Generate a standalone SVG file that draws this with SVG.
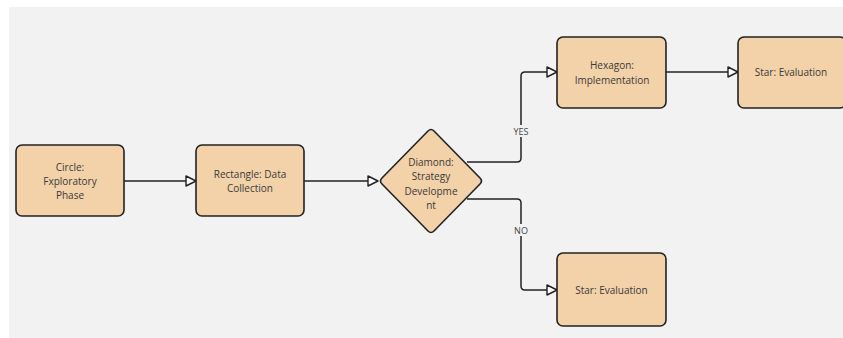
<svg xmlns="http://www.w3.org/2000/svg" width="843" height="338" viewBox="0 0 843 338">
<style>
.node{fill:#f3d1a9;stroke:#222;stroke-width:1.6}
.lbl{font-family:"Open Sans","Noto Sans",sans-serif;font-size:10px;fill:#3a3a3a;text-anchor:middle}
.edge{fill:none;stroke:#222;stroke-width:1.5}
.elbl{font-family:"Open Sans","Noto Sans",sans-serif;font-size:9px;fill:#444;text-anchor:middle}
</style>
<defs>
<marker id="arr" markerUnits="userSpaceOnUse" markerWidth="14" markerHeight="14" refX="11" refY="6" orient="auto">
<path d="M1,1 L11,6 L1,11 Z" fill="#fff" stroke="#222" stroke-width="1.4" stroke-linejoin="round"/>
</marker>
</defs>
<rect x="9" y="7" width="834" height="331" fill="#f2f2f2"/>
<g id="connectors">
<path class="edge" d="M124,181 H196" marker-end="url(#arr)"/>
<path class="edge" d="M304,181 H378" marker-end="url(#arr)"/>
<path class="edge" d="M467,162 H517 Q521,162 521,158 V76 Q521,72 525,72 H557" marker-end="url(#arr)"/>
<path class="edge" d="M467,199 H517 Q521,199 521,203 V286 Q521,290 525,290 H557" marker-end="url(#arr)"/>
<path class="edge" d="M666,72 H738" marker-end="url(#arr)"/>
<rect x="511" y="125" width="20" height="12" fill="#f2f2f2"/>
<text class="elbl" x="521" y="134.5">YES</text>
<rect x="513" y="224" width="16" height="12" fill="#f2f2f2"/>
<text class="elbl" x="521" y="233.5">NO</text>
</g>
<g id="circle">
<rect class="node" x="16" y="145" width="108" height="71" rx="6"/>
<text class="lbl" x="70" y="170.8">Circle:</text>
<text class="lbl" x="70" y="185.2">Fxploratory</text>
<text class="lbl" x="70" y="199.2">Phase</text>
</g>
<g id="rectangle">
<rect class="node" x="196" y="145" width="108" height="71" rx="6"/>
<text class="lbl" x="250" y="177.8">Rectangle: Data</text>
<text class="lbl" x="250" y="192.2">Collection</text>
</g>
<g id="diamond">
<path class="node" d="M428,131 Q431,128 434,131 L480,178 Q483,181 480,184 L434,231 Q431,234 428,231 L382,184 Q379,181 382,178 Z"/>
<text class="lbl" x="431" y="165.8">Diamond:</text>
<text class="lbl" x="431" y="180.2">Strategy</text>
<text class="lbl" x="431" y="194.5">Developme</text>
<text class="lbl" x="431" y="208.5">nt</text>
</g>
<g id="hexagon">
<rect class="node" x="557" y="37" width="109" height="71" rx="6"/>
<text class="lbl" x="612" y="69.2">Hexagon:</text>
<text class="lbl" x="612" y="83.5">Implementation</text>
</g>
<g id="star-top">
<rect class="node" x="738" y="37" width="108" height="71" rx="6"/>
<text class="lbl" x="791" y="76.2">Star: Evaluation</text>
</g>
<g id="star-bottom">
<rect class="node" x="557" y="253" width="109" height="73" rx="6"/>
<text class="lbl" x="611.5" y="293.5">Star: Evaluation</text>
</g>
</svg>
